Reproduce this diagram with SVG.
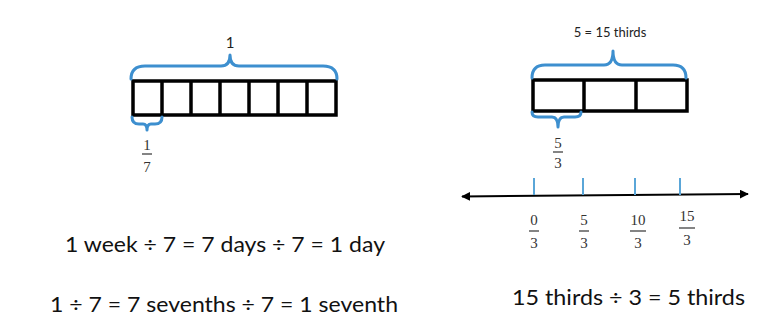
<svg xmlns="http://www.w3.org/2000/svg" width="775" height="320" viewBox="0 0 775 320">
<defs>
<style>
.bar{fill:none;stroke:#000;stroke-width:3.5}
.div{stroke:#000;stroke-width:3.5}
.brace{fill:none;stroke:#3d8fcf;stroke-width:3;stroke-linejoin:round;stroke-linecap:round}
.tick{stroke:#5aa6d8;stroke-width:2}
.frac{font-family:"Liberation Serif","DejaVu Serif",serif;font-size:15px;fill:#333;text-anchor:middle}
.fl{stroke:#333;stroke-width:1.2}
.eq{font-family:"Lato","Open Sans","Liberation Sans",sans-serif;font-size:21px;fill:#111}
.lbl{font-family:"Lato","Open Sans","Liberation Sans",sans-serif;font-size:13px;fill:#222;text-anchor:middle}
</style>
<marker id="ah" viewBox="0 0 10 10" refX="9" refY="5" markerWidth="9" markerHeight="9" markerUnits="userSpaceOnUse" orient="auto-start-reverse">
<path d="M0,0 L10,5 L0,10 Z" fill="#000"/>
</marker>
</defs>
<rect width="775" height="320" fill="#fff"/>

<g id="left-bar">
<rect class="bar" x="133" y="81" width="203" height="34"/>
<line class="div" x1="162" y1="81" x2="162" y2="115"/>
<line class="div" x1="191" y1="81" x2="191" y2="115"/>
<line class="div" x1="220" y1="81" x2="220" y2="115"/>
<line class="div" x1="249" y1="81" x2="249" y2="115"/>
<line class="div" x1="278" y1="81" x2="278" y2="115"/>
<line class="div" x1="307" y1="81" x2="307" y2="115"/>
</g>
<g id="left-top-brace">
<path class="brace" d="M131,79 Q131,66 145,66 L221,66 Q230,66 230,55 Q230,66 239,66 L323,66 Q337,66 337,79"/>
<text class="lbl" x="230" y="48" style="font-size:15px">1</text>
</g>
<g id="left-bottom-brace">
<path class="brace" d="M132,117 Q132,124 139,124 L143,124 Q147,124 147,130 Q147,124 151,124 L155,124 Q162,124 162,117"/>
<text class="frac" x="147" y="150">1</text>
<line class="fl" x1="142" y1="154" x2="152" y2="154"/>
<text class="frac" x="147" y="172">7</text>
</g>

<g id="right-bar">
<rect class="bar" x="533" y="80" width="154" height="31"/>
<line class="div" x1="584" y1="80" x2="584" y2="111"/>
<line class="div" x1="636" y1="80" x2="636" y2="111"/>
</g>
<g id="right-top-brace">
<path class="brace" d="M532,78 Q532,65 545,65 L604,65 Q613,65 613,51 Q613,65 622,65 L673,65 Q686,65 686,78"/>
<text class="lbl" x="610" y="37">5 = 15 thirds</text>
</g>
<g id="right-bottom-brace">
<path class="brace" d="M532,112 Q532,117 538,117 L552,117 Q558,117 558,127 Q558,117 564,117 L575,117 Q581,117 581,112"/>
<text class="frac" x="558" y="148">5</text>
<line class="fl" x1="553" y1="152" x2="563" y2="152"/>
<text class="frac" x="558" y="168">3</text>
</g>

<g id="connectors">
<line x1="462" y1="196.5" x2="748" y2="194" stroke="#000" stroke-width="2" marker-start="url(#ah)" marker-end="url(#ah)"/>
</g>
<g id="number-line-ticks">
<line class="tick" x1="534" y1="178" x2="534" y2="195"/>
<line class="tick" x1="583" y1="178" x2="583" y2="195"/>
<line class="tick" x1="635" y1="178" x2="635" y2="195"/>
<line class="tick" x1="680" y1="178" x2="680" y2="195"/>
</g>
<g id="number-line-labels">
<text class="frac" x="534" y="225">0</text>
<line class="fl" x1="529" y1="231" x2="539" y2="231"/>
<text class="frac" x="534" y="248">3</text>
<text class="frac" x="584" y="225">5</text>
<line class="fl" x1="579" y1="231" x2="589" y2="231"/>
<text class="frac" x="584" y="248">3</text>
<text class="frac" x="638" y="225">10</text>
<line class="fl" x1="630" y1="231" x2="646" y2="231"/>
<text class="frac" x="638" y="248">3</text>
<text class="frac" x="687" y="221">15</text>
<line class="fl" x1="679" y1="228" x2="695" y2="228"/>
<text class="frac" x="687" y="245">3</text>
</g>

<g id="equations">
<text class="eq" x="65" y="252" textLength="320" lengthAdjust="spacingAndGlyphs">1 week ÷ 7 = 7 days ÷ 7 = 1 day</text>
<text class="eq" x="50" y="312" textLength="348" lengthAdjust="spacingAndGlyphs">1 ÷ 7 = 7 sevenths ÷ 7 = 1 seventh</text>
<text class="eq" x="512" y="305" textLength="233" lengthAdjust="spacingAndGlyphs">15 thirds ÷ 3 = 5 thirds</text>
</g>
</svg>
